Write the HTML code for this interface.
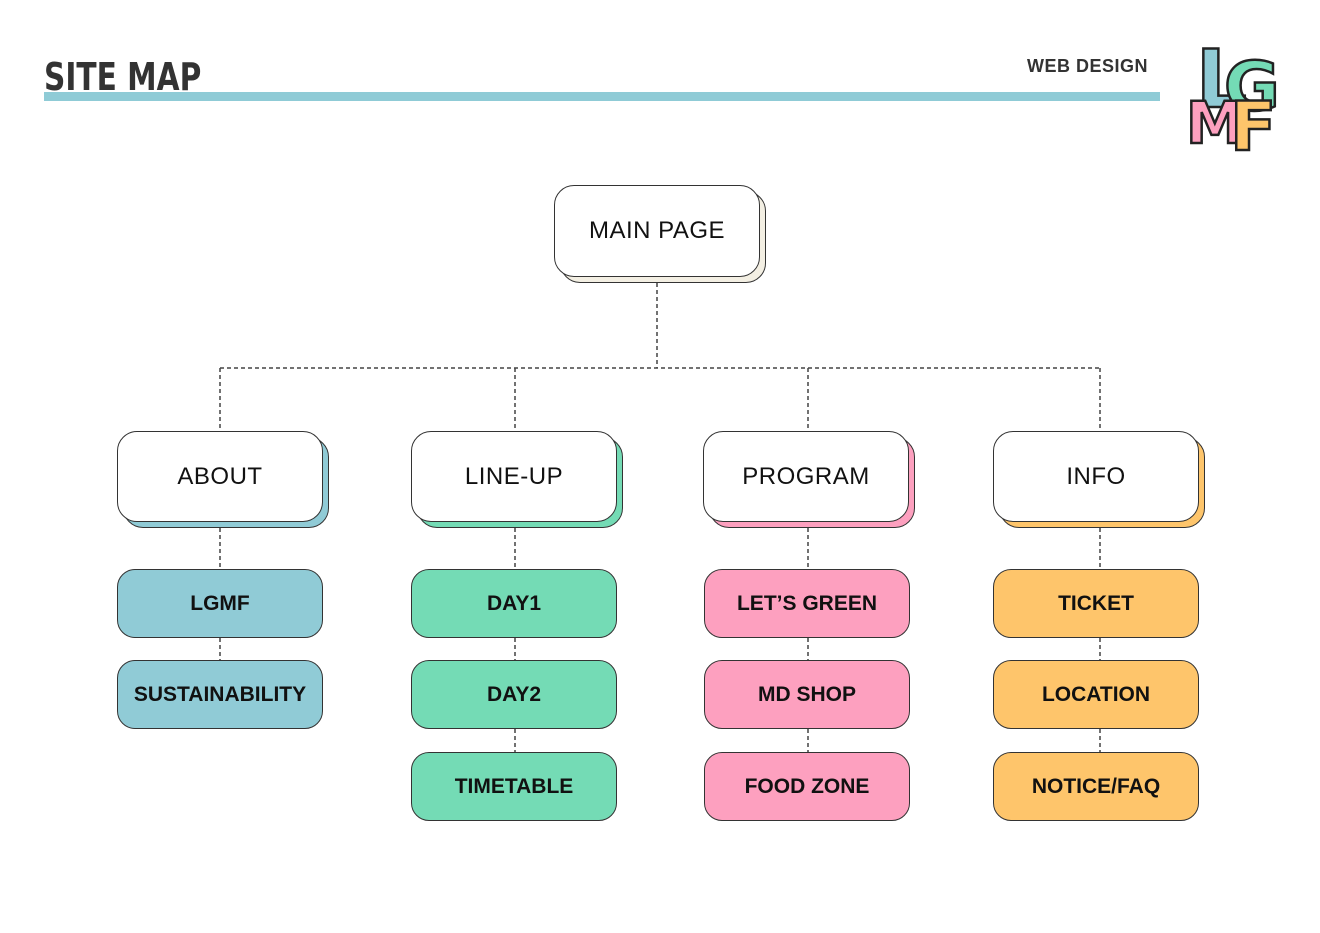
<!DOCTYPE html>
<html><head><meta charset="utf-8"><style>
body{margin:0;width:1320px;height:933px;background:#fff;position:relative;overflow:hidden;font-family:"Liberation Sans","Noto Sans CJK KR",sans-serif;}
.b{position:absolute;box-sizing:border-box;border:1.8px solid #333;border-radius:20px;display:flex;align-items:center;justify-content:center;color:#111;}
.w{background:#fff;font-size:24px;font-weight:500;letter-spacing:0.5px;}
.s{font-size:21px;font-weight:bold;border-radius:18px;}
.sh{position:absolute;box-sizing:border-box;border:1.8px solid #333;border-radius:20px;}
.lg{position:absolute;font-size:68px;font-weight:900;-webkit-text-stroke:2.5px #222;font-family:'DejaVu Sans',sans-serif;line-height:1}
</style></head><body>
<div style="position:absolute;left:44px;top:92px;width:1116px;height:9px;background:#8fcbd6"></div>
<div style="position:absolute;left:44px;top:58px;font-size:38px;font-weight:900;color:#333;font-family:'DejaVu Sans',sans-serif;transform-origin:left top;transform:scaleX(0.78);line-height:1">SITE MAP</div>
<div style="position:absolute;left:1027px;top:56px;font-size:18px;font-weight:bold;color:#333;letter-spacing:0.5px">WEB DESIGN</div>
<span class="lg" style="left:1196px;top:40px;color:#90cbd6;font-size:80px">L</span>
<span class="lg" style="left:1224px;top:54px;color:#74dbb5">G</span>
<span class="lg" style="left:1186px;top:94px;color:#fda0bf;font-size:58px">M</span>
<span class="lg" style="left:1230px;top:94px;color:#fec56b">F</span>
<svg style="position:absolute;left:0;top:0" width="1320" height="933"><g stroke="#444" stroke-width="1.5" stroke-dasharray="4,3" fill="none">
<line x1="657" y1="283" x2="657" y2="368"/><line x1="220" y1="368" x2="1100" y2="368"/>
<line x1="220" y1="368" x2="220" y2="431"/><line x1="515" y1="368" x2="515" y2="431"/><line x1="808" y1="368" x2="808" y2="431"/><line x1="1100" y1="368" x2="1100" y2="431"/>
<line x1="220" y1="528" x2="220" y2="569"/><line x1="220" y1="638" x2="220" y2="660"/>
<line x1="515" y1="528" x2="515" y2="569"/><line x1="515" y1="638" x2="515" y2="660"/><line x1="515" y1="729" x2="515" y2="752"/>
<line x1="808" y1="528" x2="808" y2="569"/><line x1="808" y1="638" x2="808" y2="660"/><line x1="808" y1="729" x2="808" y2="752"/>
<line x1="1100" y1="528" x2="1100" y2="569"/><line x1="1100" y1="638" x2="1100" y2="660"/><line x1="1100" y1="729" x2="1100" y2="752"/>
</g></svg>
<div class="sh" style="left:560px;top:191px;width:206px;height:92px;background:#f3efe3"></div>
<div class="b w" style="left:554px;top:185px;width:206px;height:92px">MAIN PAGE</div>

<div class="sh" style="left:123px;top:437px;width:206px;height:91px;background:#90cbd6"></div>
<div class="b w" style="left:117px;top:431px;width:206px;height:91px">ABOUT</div>
<div class="sh" style="left:417px;top:437px;width:206px;height:91px;background:#74dbb5"></div>
<div class="b w" style="left:411px;top:431px;width:206px;height:91px">LINE-UP</div>
<div class="sh" style="left:709px;top:437px;width:206px;height:91px;background:#fda0bf"></div>
<div class="b w" style="left:703px;top:431px;width:206px;height:91px">PROGRAM</div>
<div class="sh" style="left:999px;top:437px;width:206px;height:91px;background:#fec56b"></div>
<div class="b w" style="left:993px;top:431px;width:206px;height:91px">INFO</div>

<div class="b s" style="left:117px;top:569px;width:206px;height:69px;background:#90cbd6">LGMF</div>
<div class="b s" style="left:117px;top:660px;width:206px;height:69px;background:#90cbd6">SUSTAINABILITY</div>

<div class="b s" style="left:411px;top:569px;width:206px;height:69px;background:#74dbb5">DAY1</div>
<div class="b s" style="left:411px;top:660px;width:206px;height:69px;background:#74dbb5">DAY2</div>
<div class="b s" style="left:411px;top:752px;width:206px;height:69px;background:#74dbb5">TIMETABLE</div>

<div class="b s" style="left:704px;top:569px;width:206px;height:69px;background:#fda0bf">LET’S GREEN</div>
<div class="b s" style="left:704px;top:660px;width:206px;height:69px;background:#fda0bf">MD SHOP</div>
<div class="b s" style="left:704px;top:752px;width:206px;height:69px;background:#fda0bf">FOOD ZONE</div>

<div class="b s" style="left:993px;top:569px;width:206px;height:69px;background:#fec56b">TICKET</div>
<div class="b s" style="left:993px;top:660px;width:206px;height:69px;background:#fec56b">LOCATION</div>
<div class="b s" style="left:993px;top:752px;width:206px;height:69px;background:#fec56b">NOTICE/FAQ</div>
</body></html>
